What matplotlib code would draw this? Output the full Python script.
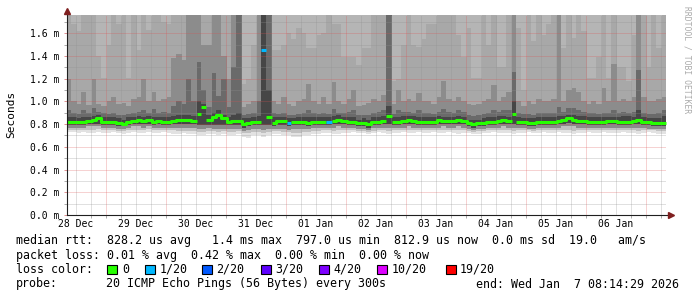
import datetime as dt
import numpy as np
import matplotlib
matplotlib.use("Agg")
import matplotlib.pyplot as plt
import matplotlib.dates as mdates
from matplotlib.patches import Rectangle

# smokeping style graph, 120 bins of 2 hours, values in 1/100 ms
START = dt.datetime(2025, 12, 28, 8, 14, 29)
BIN_HOURS = 2

median = [82, 82, 82, 82, 83, 84, 85, 82, 82, 82, 81, 80,
          82, 83, 84, 83, 84, 82, 83, 82, 82, 83, 84, 84,
          84, 83, 89, 95, 84, 86, 88, 85, 82, 83, 83, 80,
          81, 82, 82, 145, 86, 81, 83, 83, 81, 82, 82, 82,
          81, 82, 82, 82, 82, 83, 84, 83, 82, 82, 81, 81,
          80, 82, 82, 83, 87, 82, 82, 83, 84, 83, 82, 82,
          82, 82, 84, 83, 83, 83, 84, 83, 81, 80, 81, 81,
          82, 82, 83, 84, 83, 89, 82, 82, 81, 81, 82, 82,
          82, 82, 83, 84, 85, 84, 83, 83, 82, 82, 82, 82,
          83, 83, 82, 82, 82, 83, 84, 82, 82, 81, 81, 81]

# lost pings out of 20 per bin
loss = [0] * 120
loss[39] = 1
loss[44] = 1
loss[52] = 1

# smoke levels (bottom of each shade), lowest first
lo_min = [73, 73, 72, 73, 72, 72, 73, 72, 72, 73, 72, 71,
          72, 73, 72, 72, 73, 72, 72, 73, 72, 71, 71, 72,
          71, 71, 70, 70, 71, 71, 70, 71, 70, 70, 71, 69,
          68, 70, 70, 69, 70, 71, 71, 70, 70, 69, 69, 70,
          70, 71, 71, 72, 72, 71, 71, 72, 72, 73, 72, 72,
          71, 72, 73, 72, 71, 72, 72, 73, 72, 72, 73, 72,
          72, 73, 72, 72, 73, 72, 71, 72, 72, 71, 71, 72,
          72, 73, 72, 72, 72, 71, 72, 72, 73, 72, 72, 73,
          72, 72, 73, 72, 72, 71, 72, 72, 73, 72, 72, 73,
          72, 72, 72, 73, 72, 72, 71, 72, 73, 72, 71, 71]
lo_b = [75, 75, 75, 75, 75, 75, 76, 75, 75, 75, 74, 74,
        75, 75, 75, 75, 76, 75, 75, 75, 75, 75, 74, 74,
        74, 74, 73, 73, 74, 74, 73, 74, 73, 73, 74, 72,
        72, 73, 73, 72, 73, 74, 74, 73, 73, 72, 72, 73,
        73, 74, 74, 75, 75, 74, 75, 75, 75, 75, 74, 74,
        73, 74, 75, 75, 74, 75, 75, 75, 75, 75, 75, 75,
        75, 75, 75, 75, 75, 75, 75, 75, 74, 73, 74, 74,
        75, 75, 75, 75, 75, 74, 75, 75, 75, 74, 75, 75,
        75, 75, 75, 75, 75, 74, 75, 75, 75, 75, 75, 75,
        75, 75, 75, 75, 75, 75, 74, 75, 75, 75, 74, 74]
lo_c = [77, 77, 77, 77, 78, 78, 78, 77, 77, 77, 76, 76,
        77, 78, 78, 77, 78, 77, 77, 77, 77, 77, 77, 77,
        77, 77, 76, 76, 77, 76, 76, 76, 76, 76, 76, 74,
        75, 76, 76, 75, 76, 76, 76, 76, 75, 76, 76, 76,
        76, 77, 77, 77, 77, 77, 78, 77, 77, 77, 76, 76,
        75, 77, 77, 77, 77, 77, 77, 77, 78, 77, 77, 77,
        77, 77, 77, 78, 77, 77, 78, 77, 76, 75, 76, 76,
        77, 77, 77, 78, 77, 77, 77, 77, 76, 76, 77, 77,
        77, 77, 77, 78, 78, 78, 77, 77, 77, 77, 77, 77,
        77, 77, 77, 77, 77, 77, 77, 77, 76, 76, 76, 76]
lo_d = [79, 79, 79, 79, 80, 80, 80, 79, 79, 79, 78, 78,
        79, 80, 80, 80, 80, 79, 80, 79, 79, 80, 80, 80,
        80, 80, 79, 79, 79, 79, 79, 79, 79, 79, 79, 77,
        78, 79, 79, 79, 79, 78, 79, 79, 78, 79, 79, 79,
        78, 79, 79, 79, 79, 80, 80, 80, 79, 79, 78, 78,
        77, 79, 79, 80, 80, 79, 79, 80, 80, 80, 79, 79,
        79, 79, 80, 80, 80, 80, 80, 80, 78, 77, 78, 78,
        79, 79, 80, 80, 80, 80, 79, 79, 78, 78, 79, 79,
        79, 79, 80, 80, 81, 80, 80, 80, 79, 79, 79, 79,
        80, 80, 79, 79, 79, 80, 80, 79, 79, 78, 78, 78]
dark_hi = [86, 86, 85, 86, 86, 87, 88, 86, 86, 86, 85, 84,
           86, 86, 87, 86, 87, 86, 86, 86, 86, 87, 88, 88,
           88, 87, 100, 98, 88, 90, 92, 88, 86, 88, 90, 85,
           85, 86, 87, 180, 110, 86, 86, 86, 85, 85, 86, 86,
           86, 86, 86, 86, 86, 87, 88, 86, 86, 86, 84, 85,
           84, 86, 86, 87, 96, 86, 86, 87, 87, 87, 86, 86,
           86, 86, 87, 86, 86, 86, 87, 86, 84, 84, 84, 85,
           86, 86, 87, 87, 86, 100, 86, 85, 85, 85, 86, 86,
           86, 86, 87, 87, 88, 88, 87, 87, 86, 86, 86, 86,
           86, 86, 86, 87, 87, 86, 92, 86, 85, 85, 85, 87]
mid_hi = [92, 90, 89, 92, 90, 94, 91, 90, 89, 90, 88, 88,
          89, 90, 91, 92, 90, 93, 90, 91, 90, 96, 100, 98,
          120, 100, 135, 110, 95, 125, 105, 120, 95, 130, 180, 88,
          89, 90, 100, 180, 180, 90, 89, 90, 88, 88, 89, 90,
          92, 90, 89, 90, 89, 93, 90, 90, 91, 92, 88, 88,
          88, 90, 91, 92, 180, 89, 92, 91, 91, 90, 92, 90,
          90, 89, 91, 93, 91, 90, 92, 91, 88, 87, 88, 89,
          90, 92, 91, 92, 92, 126, 90, 89, 89, 88, 90, 90,
          90, 90, 95, 91, 94, 94, 92, 91, 90, 90, 89, 90,
          90, 92, 90, 91, 90, 91, 128, 90, 89, 89, 90, 92]
grey_hi = [120, 100, 98, 108, 97, 120, 98, 96, 100, 104, 98, 99,
           96, 102, 104, 120, 100, 108, 100, 102, 104, 138, 142, 136,
           180, 180, 180, 150, 150, 180, 180, 140, 120, 180, 180, 95,
           98, 100, 180, 180, 180, 100, 98, 104, 98, 96, 100, 102,
           115, 100, 98, 104, 98, 117, 100, 98, 102, 110, 96, 97,
           99, 102, 100, 106, 180, 98, 110, 100, 102, 100, 107, 100,
           100, 98, 104, 118, 102, 100, 104, 100, 98, 97, 98, 100,
           102, 114, 100, 104, 108, 180, 100, 96, 100, 98, 102, 100,
           100, 102, 180, 100, 110, 112, 108, 100, 98, 100, 98, 112,
           100, 133, 100, 102, 100, 104, 180, 104, 100, 100, 102, 104]
pale_hi = [180, 168, 162, 180, 180, 180, 140, 121, 150, 180, 168, 180,
           121, 180, 145, 180, 163, 180, 180, 170, 168, 180, 180, 180,
           180, 180, 180, 180, 180, 180, 180, 180, 180, 180, 180, 115,
           120, 150, 180, 180, 180, 145, 145, 150, 160, 155, 165, 160,
           147, 147, 158, 160, 180, 168, 168, 139, 139, 139, 132, 147,
           147, 180, 180, 180, 180, 118, 120, 150, 180, 150, 148, 155,
           168, 168, 180, 180, 180, 180, 158, 139, 165, 121, 121, 180,
           150, 180, 130, 130, 180, 180, 165, 110, 180, 153, 180, 158,
           168, 180, 180, 147, 180, 156, 180, 162, 121, 121, 139, 180,
           121, 180, 130, 130, 118, 158, 180, 180, 130, 180, 147, 180]

day_labels = ["28 Dec", "29 Dec", "30 Dec", "31 Dec", "01 Jan",
              "02 Jan", "03 Jan", "04 Jan", "05 Jan", "06 Jan"]

loss_colors = {0: "#26ff00", 1: "#00b8ff", 2: "#0059ff", 3: "#5e00ff",
               4: "#7e00ff", 10: "#dd00ff", 19: "#ff0000"}

W, H = 697, 297
MONO = "DejaVu Sans Mono"
plt.rcParams["lines.scale_dashes"] = False


def fx(x):
    return x / W


def fy(y):
    return 1 - y / H


fig = plt.figure(figsize=(W / 100, H / 100), dpi=100)
fig.patch.set_facecolor("white")
ax = fig.add_axes([fx(66.5), fy(215), 600 / W, 200 / H])
ax.set_facecolor("white")

n = len(median)
edges = [START + dt.timedelta(hours=BIN_HOURS * k) for k in range(n + 1)]
xe = mdates.date2num(edges)
YTOP = 1.76


def layer(bottom, color):
    y = np.append(bottom, bottom[-1]) / 100.0
    ax.fill_between(xe, y, 2.0, step="post", color=color, lw=0, zorder=1)


layer(lo_min, "#e2e2e2")
layer(lo_b, "#c0c0c0")
layer(lo_c, "#8a8a8a")
layer(lo_d, "#464646")
layer(dark_hi, "#6a6a6a")
layer(mid_hi, "#8c8c8c")
layer(grey_hi, "#a8a8a8")
layer(pale_hi, "#b5b5b5")

# grid, 1px dots like rrdtool
x0, x1 = xe[0], xe[-1]
six_h = [START.replace(hour=0, minute=0, second=0) + dt.timedelta(hours=6 * k)
         for k in range(0, 45)]
six_h = [t for t in six_h if edges[0] < t < edges[-1]]
minor_x = [mdates.date2num(t) for t in six_h if t.hour != 0]
major_x = [mdates.date2num(t) for t in six_h if t.hour == 0]
dots = (0, (0.72, 0.72))
grid_c = (0.56, 0.56, 0.56, 0.55)
mgrid_c = (0.87, 0.31, 0.31, 0.5)
grid_kw = dict(lw=0.72, linestyles=dots, zorder=2)
ax.vlines(minor_x, 0, YTOP, colors=[grid_c], **grid_kw)
ax.hlines(np.arange(0.1, 1.75, 0.2), x0, x1, colors=[grid_c], **grid_kw)
ax.vlines(major_x, 0, YTOP, colors=[mgrid_c], **grid_kw)
ax.hlines(np.arange(0.2, 1.7, 0.2), x0, x1, colors=[mgrid_c], **grid_kw)

# median line, split where loss colour changes or on big jumps
med = np.array(median) / 100.0
start = 0
for k in range(1, n + 1):
    if k == n or loss[k] != loss[k - 1] or abs(med[k] - med[k - 1]) > 0.04:
        xs = xe[start:k + 1]
        ys = np.append(med[start:k], med[k - 1])
        ax.plot(xs, ys, drawstyle="steps-post", color=loss_colors[loss[start]],
                lw=2.2, solid_capstyle="butt", zorder=4)
        start = k

ax.set_xlim(x0, x1)
ax.set_ylim(0, YTOP)
for s in ax.spines.values():
    s.set_visible(False)

noons = [mdates.date2num(dt.datetime(2025, 12, 28, 12) + dt.timedelta(days=d))
         for d in range(len(day_labels))]
ax.set_xticks(noons)
ax.set_xticklabels(day_labels, fontfamily=MONO, fontsize=7)
ax.set_xticks(minor_x + major_x, minor=True)
yt = np.arange(0, 1.61, 0.2)
ax.set_yticks(yt)
ax.set_yticklabels([f"{v:.1f} m" for v in yt], fontfamily=MONO, fontsize=7)
ax.set_yticks(np.arange(0.1, 1.75, 0.2), minor=True)
ax.tick_params(axis="x", which="major", length=0, pad=3)
ax.tick_params(axis="x", which="minor", length=2, width=0.7, color="#aaaaaa")
ax.tick_params(axis="y", which="major", length=2, width=0.7, color="#e09090", pad=3.2)
ax.tick_params(axis="y", which="minor", length=2, width=0.7, color="#aaaaaa")

# axis lines with arrows
axis_c = "#1f1f1f"
ax.plot([0, 1.006], [0, 0], color=axis_c, lw=0.8, transform=ax.transAxes,
        clip_on=False, zorder=5)
ax.plot([0, 0], [0, 1.02], color=axis_c, lw=0.8, transform=ax.transAxes,
        clip_on=False, zorder=5)
ax.plot([1.007], [0], marker=">", ms=4, color="#7f1f1f", transform=ax.transAxes,
        clip_on=False, zorder=6)
ax.plot([0], [1.02], marker="^", ms=4, color="#7f1f1f", transform=ax.transAxes,
        clip_on=False, zorder=6)

fig.text(fx(11), fy(114), "Seconds", rotation=90, ha="center", va="center",
         fontfamily=MONO, fontsize=8)
fig.text(fx(687.5), fy(60), "RRDTOOL / TOBI OETIKER", rotation=270,
         ha="center", va="center", fontfamily=MONO, fontsize=5.8, color="#aaaaaa")

# legend block
leg = dict(fontfamily=MONO, fontsize=8.4, va="baseline", ha="left")
fig.text(fx(16), fy(244), "median rtt:  828.2 us avg   1.4 ms max  797.0 us min"
         "  812.9 us now  0.0 ms sd  19.0   am/s", **leg)
fig.text(fx(16), fy(258.5), "packet loss: 0.01 % avg  0.42 % max  0.00 % min"
         "  0.00 % now", **leg)
fig.text(fx(16), fy(273), "loss color:", **leg)
swatch_x = [107, 145, 202, 261, 319, 377, 446]
label_x = [122.5, 159.5, 216.5, 275, 333.5, 391.5, 460]
for (lv, c), sx, lx in zip(loss_colors.items(), swatch_x, label_x):
    fig.add_artist(Rectangle((fx(sx), fy(273.5)), 9.5 / W, 9 / H, facecolor=c,
                             edgecolor="black", lw=0.8, transform=fig.transFigure))
    txt = "0" if lv == 0 else f"{lv}/20"
    fig.text(fx(lx), fy(273), txt, **leg)
fig.text(fx(16), fy(287.5), "probe:", **leg)
fig.text(fx(106), fy(287.5), "20 ICMP Echo Pings (56 Bytes) every 300s", **leg)
fig.text(fx(476), fy(287.5), "end: Wed Jan  7 08:14:29 2026", **leg)

fig.savefig("out.png", dpi=100, facecolor="white")
